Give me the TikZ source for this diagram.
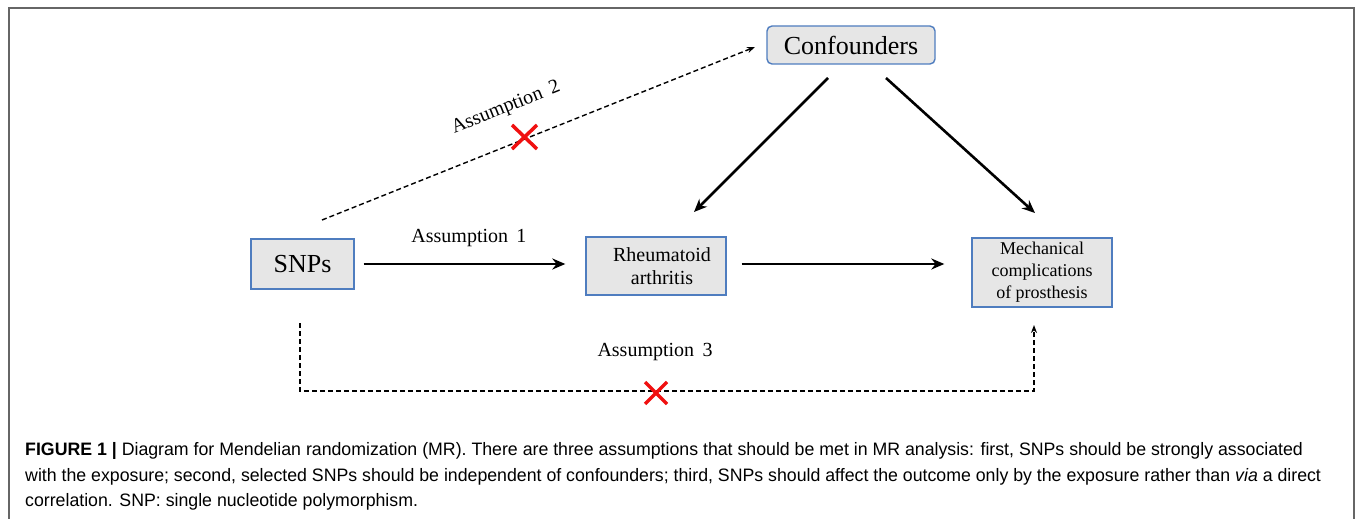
\documentclass[tikz,border=0pt]{standalone}
\usepackage{fontspec}
\setmainfont{Liberation Serif}
\newfontfamily\capfont[FakeStretch=0.985]{Liberation Sans}
\usetikzlibrary{arrows.meta}
\definecolor{boxfill}{HTML}{E6E6E6}
\definecolor{boxline}{HTML}{4F7DBF}
\definecolor{framegray}{HTML}{666666}
\definecolor{xred}{HTML}{F01010}
\tikzset{
  box/.style={draw=boxline, line width=1.4pt, fill=boxfill, inner sep=0pt, align=center},
  solidarrow/.style={line width=2.6pt, -{Stealth[length=13pt,width=11pt]}},
  dasharrow/.style={line width=1.4pt, dash pattern=on 5pt off 3pt, -{Stealth[length=8pt,width=6pt]}},
  lab/.style={inner sep=0pt, font=\fontsize{20}{23}\selectfont},
  captext/.style={anchor=west, inner sep=0pt, font=\capfont\fontsize{18}{21}\selectfont},
  redx/.style={draw=xred, line width=3.5pt}
}
\begin{document}
\begin{tikzpicture}[x=1pt,y=-1pt]
\useasboundingbox (0,0) rectangle (1355,519);
% frame
\draw[framegray, line width=1.6pt] (9,519) -- (9,8) -- (1354,8) -- (1354,519);

% nodes
\node[box, rounded corners=5pt, minimum width=168pt, minimum height=38pt, font=\fontsize{26}{30}\selectfont] (conf) at (851,45) {Confounders};
\node[box, minimum width=103pt, minimum height=50pt, font=\fontsize{26}{30}\selectfont] (snp) at (302.5,264) {SNPs};
\node[box, minimum width=140pt, minimum height=58pt, font=\fontsize{20}{23}\selectfont] (ra) at (656,266) {\hspace*{12pt}Rheumatoid\\\hspace*{12pt}arthritis};
\node[box, minimum width=140pt, minimum height=69pt, font=\fontsize{18}{22}\selectfont] (mech) at (1042,272.5) {Mechanical\\complications\\of prosthesis};

% solid arrows
\draw[solidarrow] ([xshift=9pt]snp.east) -- ([xshift=-20pt]ra.west |- snp.east);
\draw[solidarrow] ([xshift=15pt]ra.east |- snp.east) -- ([xshift=-27pt]mech.west |- snp.east);
\coordinate (c1) at (828,78);
\coordinate (c2) at (886,78);
\coordinate (raTop) at (694,212);
\coordinate (mechTop) at (1035,213);
\draw[solidarrow] (c1) -- (raTop);
\draw[solidarrow] (c2) -- (mechTop);

% assumption 1
\node[lab] (a1) at (469,238) {Assumption\, 1};

% assumption 2 dashed
\coordinate (a2s) at (322,220);
\coordinate (a2e) at (755,47);
\draw[dasharrow] (a2s) -- (a2e);
\node[lab, rotate=21.8] (a2) at (506,108) {Assumption\, 2};
\draw[redx] (512,125) -- (537,149);
\draw[redx] (512,149) -- (537,125);

% assumption 3 dashed
\coordinate (a3s) at (300,323);
\coordinate (a3a) at (300,391);
\coordinate (a3b) at (1034,391);
\coordinate (a3e) at (1034,325);
\draw[dasharrow] (a3s) -- (a3a) -- (a3b) -- (a3e);
\node[lab] (a3) at (655,352) {Assumption\, 3};
\draw[redx] (645,382) -- (667,404);
\draw[redx] (645,404) -- (667,382);

% caption
\node[captext] (cap1) at (25,451) {\textbf{FIGURE 1 |} Diagram for Mendelian randomization (MR). There are three assumptions that should be met in MR analysis: first, SNPs should be strongly associated};
\node[captext] (cap2) at (25,477) {with the exposure; second, selected SNPs should be independent of confounders; third, SNPs should affect the outcome only by the exposure rather than \textit{via} a direct};
\node[captext] (cap3) at (25,502) {correlation. SNP: single nucleotide polymorphism.};
\end{tikzpicture}
\end{document}
